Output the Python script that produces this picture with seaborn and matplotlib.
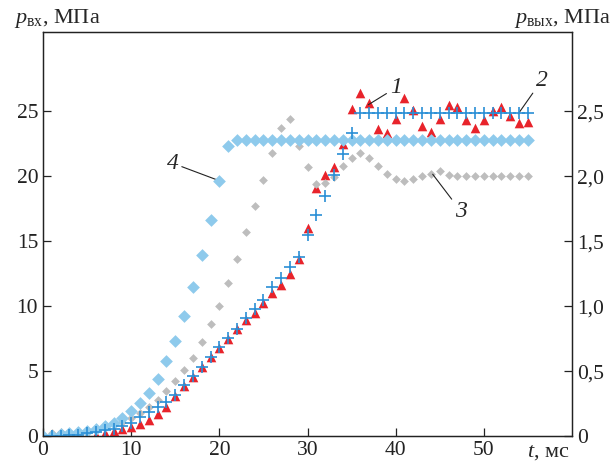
import pandas as pd
import matplotlib
matplotlib.use("Agg")
import matplotlib.pyplot as plt
import seaborn as sns

# time, ms (one sample per ms)
t = list(range(0, 56))

# 1 - red triangles (left axis units)
p1 = [0, 0, 0, 0, 0, 0.03, 0.08, 0.26, 0.38, 0.51,
      0.67, 0.92, 1.23, 1.69, 2.2, 3.05, 3.85, 4.55, 5.3, 6.05,
      6.8, 7.5, 8.2, 8.95, 9.5, 10.25, 11.0, 11.65, 12.5, 13.6,
      16.0, 19.1, 20.1, 20.7, 22.5, 25.2, 26.4, 25.6, 23.6, 23.3,
      24.4, 26.0, 25.1, 23.9, 23.4, 24.4, 25.5, 25.3, 24.3, 23.7,
      24.3, 25.0, 25.3, 24.6, 24.1, 24.2]

# 2 - blue plus
p2 = [0, 0, 0.02, 0.05, 0.1, 0.2, 0.3, 0.45, 0.55, 0.77,
      0.97, 1.49, 1.87, 2.26, 2.64, 3.15, 3.9, 4.6, 5.35, 6.1,
      6.85, 7.55, 8.25, 9.05, 9.8, 10.5, 11.5, 12.2, 13.0, 13.8,
      15.5, 17.0, 18.5, 20.1, 21.7, 23.3, 24.9, 24.9, 24.9, 24.9,
      24.9, 24.9, 24.9, 24.9, 24.9, 24.9, 24.9, 24.9, 24.9, 24.9,
      24.9, 24.9, 24.9, 24.9, 24.9, 24.9]

# 3 - gray diamonds
p3 = [0.05, 0.2, 0.28, 0.28, 0.3, 0.46, 0.59, 0.82, 0.97, 1.1,
      1.35, 1.74, 2.2, 2.77, 3.49, 4.2, 5.08, 5.97, 7.2, 8.65,
      10.0, 11.8, 13.6, 15.7, 17.7, 19.7, 21.8, 23.7, 24.4, 22.3,
      20.7, 19.4, 19.5, 19.9, 20.8, 21.4, 21.8, 21.4, 20.8, 20.2,
      19.8, 19.6, 19.8, 20.0, 20.2, 20.4, 20.1, 20.0, 20.0, 20.0,
      20.0, 20.0, 20.0, 20.0, 20.0, 20.0]

# 4 - light blue diamonds
p4 = [0, 0.02, 0.13, 0.2, 0.31, 0.41, 0.56, 0.77, 1.03, 1.36,
      1.92, 2.51, 3.33, 4.38, 5.74, 7.35, 9.25, 11.5, 13.9, 16.6,
      19.6, 22.3] + [22.8] * 34

xticks = [0, 10, 20, 30, 40, 50]
yticks_left = [0, 5, 10, 15, 20, 25]
yticks_right = [0, 0.5, 1.0, 1.5, 2.0, 2.5]
yticklabels_right = ['0', '0,5', '1,0', '1,5', '2,0', '2,5']

sns.set_style("ticks")
plt.rcParams['font.family'] = ['Liberation Serif', 'DejaVu Serif']
plt.rcParams['mathtext.fontset'] = 'custom'
plt.rcParams['mathtext.rm'] = 'Liberation Serif'
plt.rcParams['mathtext.it'] = 'Liberation Serif:italic'

fig = plt.figure(figsize=(6.16, 4.68), dpi=100)
ax = fig.add_axes([43 / 616, 32 / 468, 529 / 616, 404 / 468])

df = pd.DataFrame({'t': t, 'p1': p1, 'p2': p2, 'p3': p3, 'p4': p4})

sns.scatterplot(data=df, x='t', y='p1', marker='^', s=48, color='#E8232B',
                linewidth=0, ax=ax, zorder=3)
sns.scatterplot(data=df, x='t', y='p3', marker='D', s=20, color='#BDBDBD',
                linewidth=0, ax=ax, zorder=3)
sns.scatterplot(data=df, x='t', y='p4', marker='D', s=42, color='#8ECAEC',
                linewidth=0, ax=ax, zorder=4)
sns.scatterplot(data=df, x='t', y='p2', marker='+', s=64, color='#2A8FD6',
                linewidth=1.2, ax=ax, zorder=5)

ax.set_xlim(0, 60)
ax.set_ylim(0, 31.1)
ax.set_xticks(xticks)
ax.set_yticks(yticks_left)
ax.set_xlabel(None)
ax.set_ylabel(None)
ax.tick_params(direction='in', length=6, width=0.9, labelsize=15.5,
               colors='#222222')
for sp in ax.spines.values():
    sp.set_visible(True)
    sp.set_linewidth(0.9)
    sp.set_color('#222222')

ax2 = ax.twinx()
ax2.set_ylim(0, 3.11)
ax2.set_yticks(yticks_right)
ax2.set_yticklabels(yticklabels_right)
ax2.tick_params(direction='in', length=6, width=0.9, labelsize=15.5,
                colors='#222222')
for sp in ax2.spines.values():
    sp.set_linewidth(0.9)
    sp.set_color('#222222')

# curve labels
arrow = dict(arrowstyle='-', lw=0.8, color='#222222', shrinkA=0, shrinkB=0)
ax.annotate('1', xy=(36.9, 25.5), xytext=(40.0, 26.8), fontsize=17,
            fontstyle='italic', ha='center', va='center', arrowprops=arrow)
ax.annotate('2', xy=(53.9, 24.8), xytext=(56.6, 27.4), fontsize=17,
            fontstyle='italic', ha='center', va='center', arrowprops=arrow)
ax.annotate('3', xy=(44.2, 20.15), xytext=(47.4, 17.3), fontsize=17,
            fontstyle='italic', ha='center', va='center', arrowprops=arrow)
ax.annotate('4', xy=(20.2, 19.6), xytext=(14.7, 21.0), fontsize=17,
            fontstyle='italic', ha='center', va='center', arrowprops=arrow)

fig.text(14 / 616, 1 - 18 / 468, r'$p_{\mathrm{вх}}$, МПа', ha='left',
         va='center', fontsize=16)
fig.text(611 / 616, 1 - 18 / 468, r'$p_{\mathrm{вых}}$, МПа', ha='right',
         va='center', fontsize=16)
fig.text(527 / 616, 1 - 453 / 468, r'$t$, мс', ha='left', va='center',
         fontsize=16)

fig.savefig('out.png', dpi=100)
